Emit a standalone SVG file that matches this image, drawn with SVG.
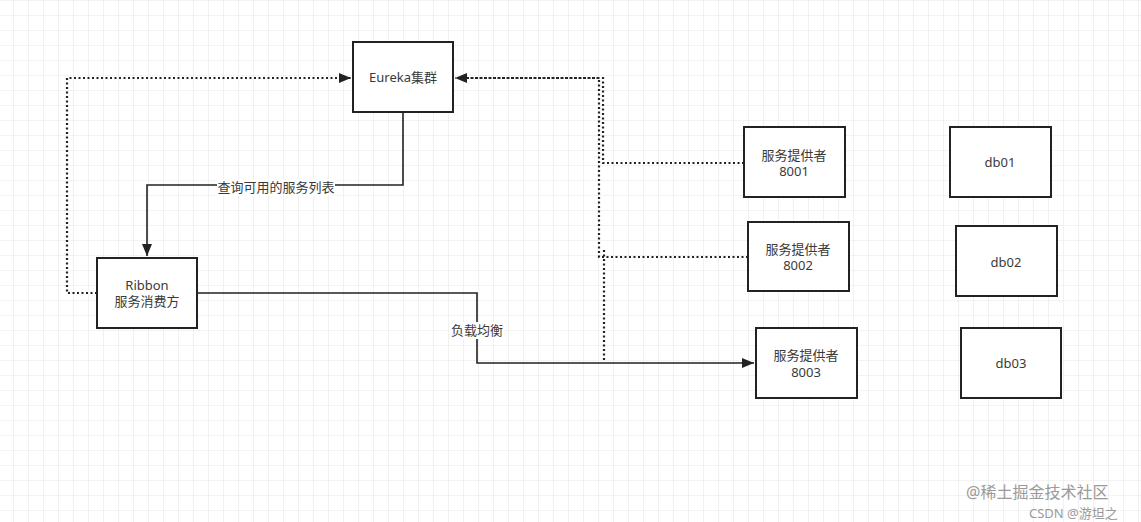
<svg xmlns="http://www.w3.org/2000/svg" width="1141" height="522" viewBox="0 0 1141 522">
<defs>
<pattern id="grid" width="15" height="15" patternUnits="userSpaceOnUse" x="13" y="0">
<path d="M0 0 H15 M0 0 V15" fill="none" stroke="#e8e8e8" stroke-width="1.2"/>
</pattern>
<marker id="arr" viewBox="0 0 12 10" refX="12" refY="5" markerWidth="12" markerHeight="10" markerUnits="userSpaceOnUse" orient="auto">
<path d="M0 0 L12 5 L0 10 Z" fill="#222"/>
</marker>
</defs>
<style>
.box{fill:#fff;stroke:#222;stroke-width:2}
.t{font-family:"Noto Sans","Noto Sans CJK SC",sans-serif;font-size:13px;fill:#3a3a3a;text-anchor:middle}
.solid{fill:none;stroke:#222;stroke-width:1.6}
.dot{fill:none;stroke:#222;stroke-width:2.2;stroke-dasharray:2 2.5}
.wm{font-family:"Noto Sans","Noto Sans CJK SC",sans-serif;fill:#9a9a9a}
</style>
<rect width="1141" height="522" fill="#fff"/>
<rect width="1141" height="522" fill="url(#grid)"/>
<g id="connectors">
<path class="dot" d="M97 293 H67 V78 H351" marker-end="url(#arr)"/>
<path class="solid" d="M403 112 V185 H147 V256" marker-end="url(#arr)"/>
<path class="solid" d="M197 293 H477 V363 H754" marker-end="url(#arr)"/>
<path class="dot" d="M744 163 H603 V78 H455" marker-end="url(#arr)"/>
<path class="dot" d="M748 257 H599 V78 H470"/>
<path class="dot" d="M604 360 V250"/>
<rect x="217" y="179" width="118" height="17" fill="#fff"/>
<text class="t" x="276" y="192">查询可用的服务列表</text>
<rect x="450" y="322" width="54" height="17" fill="#fff"/>
<text class="t" x="477" y="335">负载均衡</text>
</g>
<g id="eureka">
<rect class="box" x="353" y="42" width="100" height="70"/>
<text class="t" x="403" y="82">Eureka集群</text>
</g>
<g id="ribbon">
<rect class="box" x="97" y="258" width="100" height="70"/>
<text class="t" x="147" y="290">Ribbon</text>
<text class="t" x="147" y="306">服务消费方</text>
</g>
<g id="p8001">
<rect class="box" x="744" y="127" width="101" height="70"/>
<text class="t" x="794" y="160">服务提供者</text>
<text class="t" x="794" y="176">8001</text>
</g>
<g id="p8002">
<rect class="box" x="748" y="222" width="101" height="69"/>
<text class="t" x="798" y="254">服务提供者</text>
<text class="t" x="798" y="270">8002</text>
</g>
<g id="p8003">
<rect class="box" x="756" y="328" width="101" height="70"/>
<text class="t" x="806" y="360">服务提供者</text>
<text class="t" x="806" y="377">8003</text>
</g>
<g id="db01">
<rect class="box" x="950" y="127" width="101" height="70"/>
<text class="t" x="1000" y="167">db01</text>
</g>
<g id="db02">
<rect class="box" x="956" y="226" width="101" height="70"/>
<text class="t" x="1006" y="267">db02</text>
</g>
<g id="db03">
<rect class="box" x="961" y="328" width="100" height="70"/>
<text class="t" x="1011" y="368">db03</text>
</g>
<text class="wm" x="966" y="498" font-size="16">@稀土掘金技术社区</text>
<text class="wm" x="1029" y="518" font-size="13">CSDN @游坦之</text>
</svg>
